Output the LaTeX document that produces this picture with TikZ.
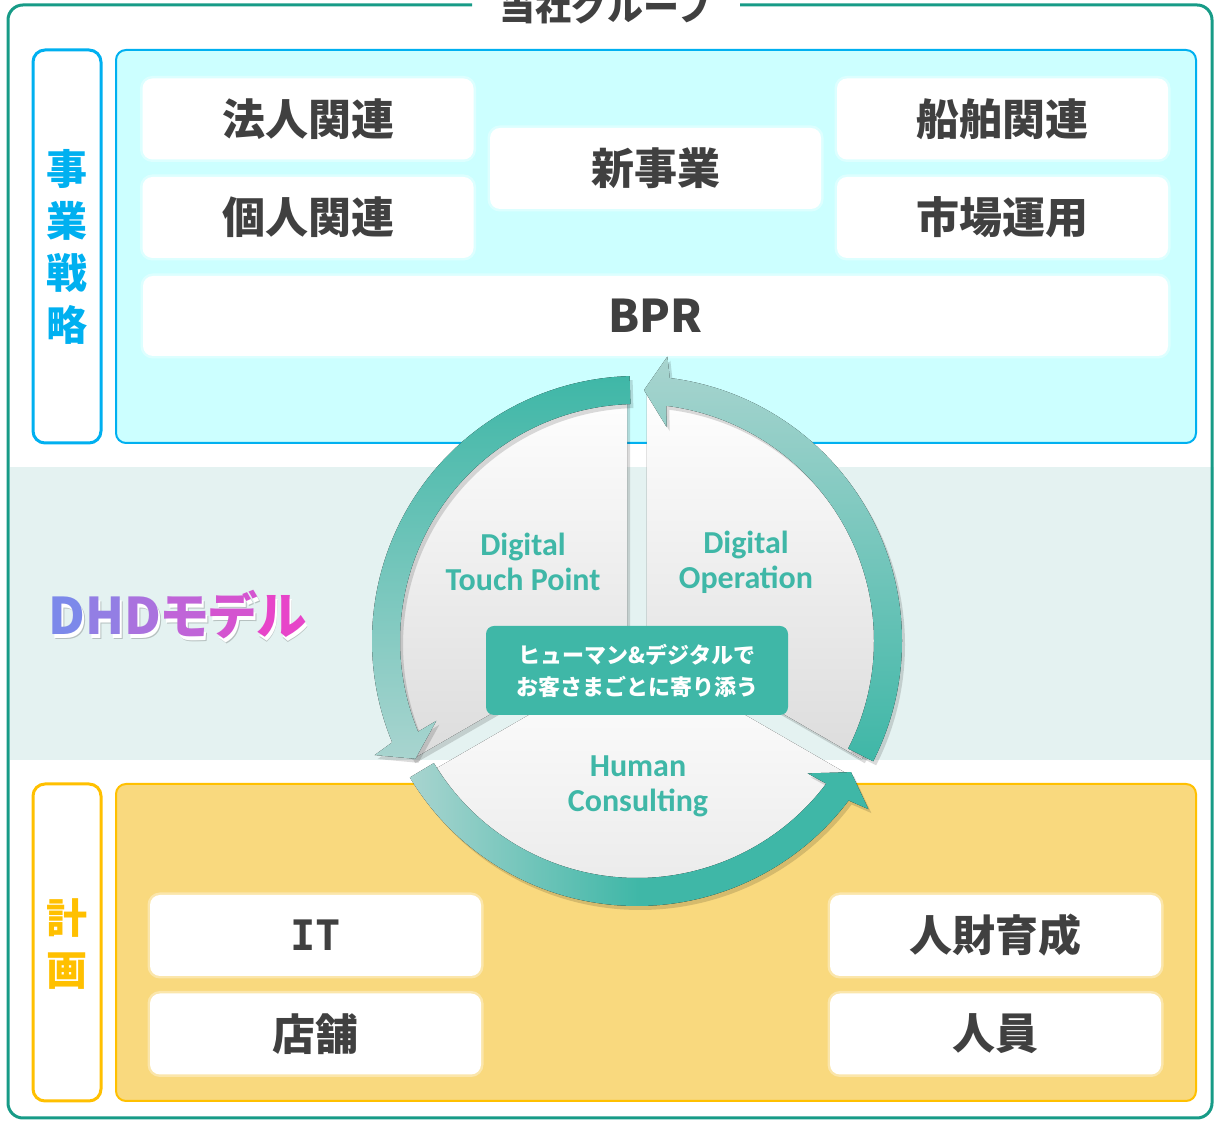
\documentclass[tikz,border=0pt]{standalone}
\usepackage{fontspec}
\newfontfamily\jp{Noto Sans CJK JP}
\newfontfamily\jpp{Noto Sans CJK JP}[RawFeature=+palt]
\newfontfamily\calibri{Carlito}
\newfontfamily\mono{DejaVu Sans Mono}

\definecolor{frameteal}{HTML}{179B87}
\definecolor{stratblue}{HTML}{00B0F0}
\definecolor{stratfill}{HTML}{CCFFFF}
\definecolor{planyellow}{HTML}{FFC000}
\definecolor{planfill}{HTML}{F9D97E}
\definecolor{bandgray}{HTML}{E4F2F1}
\definecolor{textgray}{HTML}{404040}
\definecolor{dhdteal}{HTML}{3FB7A7}
\definecolor{dhdpale}{HTML}{A8D4CF}
\definecolor{piegray}{HTML}{DCDCDC}
\definecolor{dhdA}{HTML}{7C89EA}
\definecolor{dhdB}{HTML}{937EE4}
\definecolor{dhdC}{HTML}{AA72DE}
\definecolor{dhdD}{HTML}{C064D8}
\definecolor{dhdE}{HTML}{D454D0}
\definecolor{dhdF}{HTML}{E745C9}

% ring arrow around the model: #1 tail angle, #2 tip angle
\newcommand{\ringarrow}[2]{%
  (#1:265) arc[start angle=#1, end angle=#2-5.5, radius=265]
  -- ({#2-4.5}:286) -- (#2:251) -- ({#2-6.3}:216) -- ({#2-5.5}:237)
  arc[start angle=#2-5.5, end angle=#1, radius=237] -- cycle}

\tikzset{
  sidebox/.style={rounded corners=12pt, line width=3pt, fill=white},
  mainbox/.style={rounded corners=10pt, line width=2pt},
  item/.style={rounded corners=10pt, fill=white, inner sep=0pt,
    minimum width=331pt, minimum height=81pt, text=textgray,
    font=\jp\bfseries\fontsize{43}{49}\selectfont,
    preaction={draw=white, draw opacity=.35, line width=5pt}},
  sidetext/.style={align=center, font=\jp\bfseries\fontsize{41}{52}\selectfont},
  seglabel/.style={align=center, text=dhdteal,
    font=\calibri\bfseries\fontsize{32}{35}\selectfont},
  pieshadow/.style={fill=black, opacity=.14, shift={(3,-4)}},
}

\begin{document}
\begin{tikzpicture}[x=1pt, y=1pt]
  \useasboundingbox (0,0) rectangle (1214,1123);

  % middle band
  \fill[bandgray] (10,363) rectangle (1214,656);

  % group frame with title
  \node[font=\jp\bfseries\fontsize{36}{40}\selectfont, text=textgray] (title) at (606,1116.5) {当社グループ};
  \draw[frameteal, line width=3pt, rounded corners=15pt]
    (472,1118) -- (8,1118) -- (8,5) -- (1212,5) -- (1212,1118) -- (740,1118);

  % strategy block
  \draw[sidebox, draw=stratblue] (33,680) rectangle (101,1073);
  \node[sidetext, text=stratblue] (strat) at (67,876) {事\\業\\戦\\略};
  \draw[mainbox, draw=stratblue, fill=stratfill] (116,680) rectangle (1196,1073);
  \node[item] (corp) at (308,1004) {法人関連};
  \node[item] (indiv) at (308,905.5) {個人関連};
  \node[item] (newbiz) at (655.5,954.5) {新事業};
  \node[item] (ship) at (1002.5,1004) {船舶関連};
  \node[item] (market) at (1002.5,905.5) {市場運用};
  \node[item, minimum width=1025pt, minimum height=80pt,
    font=\jp\bfseries\fontsize{45}{50}\selectfont] (bpr) at (655.5,807) {BPR};

  % plan block
  \draw[sidebox, draw=planyellow] (33,22) rectangle (101,339);
  \node[sidetext, text=planyellow] (plan) at (67,178.5) {計\\画};
  \draw[mainbox, draw=planyellow, fill=planfill] (116,22) rectangle (1196,339);
  \node[item, font=\mono\bfseries\fontsize{42}{48}\selectfont] (it) at (315.5,187.5) {IT};
  \node[item] (shop) at (315.5,89) {店舗};
  \node[item] (talent) at (995.5,187.5) {人財育成};
  \node[item] (staff) at (995.5,89) {人員};

  % model name
  \node[font=\jpp\bfseries\fontsize{50.5}{56}\selectfont, text=black, opacity=.2] at (180,503) {DHDモデル};
  \node[font=\jpp\bfseries\fontsize{50.5}{56}\selectfont, text=white] at (179.5,504.5) {DHDモデル};
  \node[font=\jpp\bfseries\fontsize{50.5}{56}\selectfont] (dhd) at (177.5,508)
    {\color{dhdA}D\color{dhdB}H\color{dhdC}D\color{dhdD}モ\color{dhdE}デ\color{dhdF}ル};

  \begin{scope}[shift={(637,482)}]
    % pie segments
    \fill[pieshadow, shift={(150:11.5)}] (0,0) -- (90:248) arc[start angle=90, end angle=210, radius=248] -- cycle;
    \fill[pieshadow, shift={(30:11.5)}] (0,0) -- (-30:248) arc[start angle=-30, end angle=90, radius=248] -- cycle;
    \fill[pieshadow, shift={(270:11.5)}] (0,0) -- (210:248) arc[start angle=210, end angle=330, radius=248] -- cycle;
    \fill[shift={(150:11.5)}, top color=white, bottom color=piegray] (0,0) -- (90:248) arc[start angle=90, end angle=210, radius=248] -- cycle;
    \fill[shift={(30:11.5)}, top color=white, bottom color=piegray] (0,0) -- (-30:248) arc[start angle=-30, end angle=90, radius=248] -- cycle;
    \fill[shift={(270:11.5)}, top color=white, bottom color=piegray!70] (0,0) -- (210:248) arc[start angle=210, end angle=330, radius=248] -- cycle;

    % arrows
    \fill[pieshadow] \ringarrow{91.6}{208};
    \fill[pieshadow] \ringarrow{333}{448.4};
    \fill[pieshadow] \ringarrow{211}{328.5};
    \fill[top color=dhdteal, bottom color=dhdpale] \ringarrow{91.6}{208};
    \fill[top color=dhdpale, bottom color=dhdteal] \ringarrow{333}{448.4};
    \fill[left color=dhdpale, right color=dhdteal, middle color=dhdteal] \ringarrow{211}{328.5};
  \end{scope}

  % segment labels
  \node[seglabel] (touch) at (523,561) {Digital\\Touch Point};
  \node[seglabel] (oper) at (746,561) {Digital\\Operation};
  \node[seglabel] (human) at (638,337) {Human\\Consulting};

  % message in the middle
  \node[fill=dhdteal, rounded corners=8pt, minimum width=302pt, minimum height=89pt,
    text=white, align=center, font=\jp\bfseries\fontsize{22}{32}\selectfont]
    (msg) at (637,452.5) {ヒューマン\&デジタルで\\お客さまごとに寄り添う};
\end{tikzpicture}
\end{document}
